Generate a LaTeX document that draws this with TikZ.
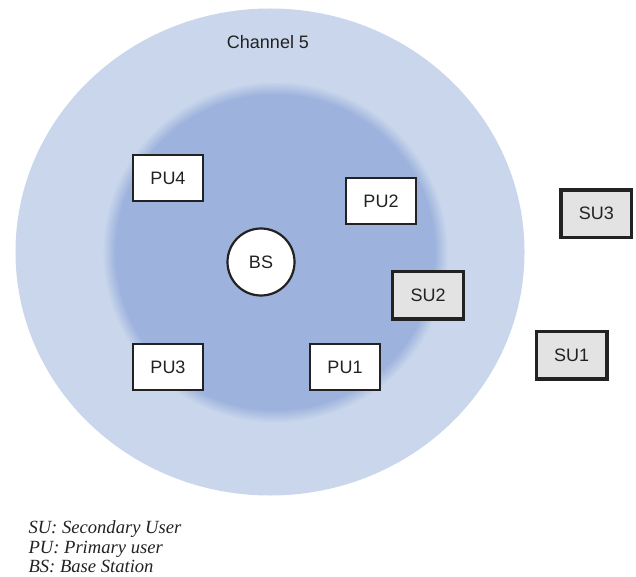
\documentclass[tikz,border=0pt]{standalone}
\usepackage{fontspec}
\setmainfont{Liberation Serif}
\newfontfamily\labelfont{Liberation Sans}
\definecolor{cellouter}{HTML}{C9D6EC}
\definecolor{cellinner}{HTML}{9DB3DD}
\definecolor{sufill}{HTML}{E3E3E3}
\definecolor{inkgray}{HTML}{222222}
\tikzset{
  pubox/.style={draw=inkgray, line width=2.3pt, fill=white, minimum width=69.7pt, minimum height=45.7pt,
    inner sep=0pt, font=\labelfont\fontsize{18}{20}\selectfont, text=inkgray},
  subox/.style={draw=inkgray, line width=3.4pt, fill=sufill, minimum width=70.6pt, minimum height=47.6pt,
    inner sep=0pt, font=\labelfont\fontsize{18}{20}\selectfont, text=inkgray},
  station/.style={circle, draw=inkgray, line width=2.2pt, fill=white, minimum size=67pt, inner sep=0pt,
    font=\labelfont\fontsize{18}{20}\selectfont, text=inkgray},
  legendline/.style={anchor=base west, inner sep=0pt, font=\itshape\fontsize{18.6}{20}\selectfont, text=inkgray},
}
\begin{document}
\begin{tikzpicture}[x=1pt, y=-1pt]
\useasboundingbox (0,0) rectangle (636,577);
% coverage area of the channel
\fill[cellouter] (270,252) ellipse [x radius=254.5, y radius=243.5];
% inner zone with a soft rim
\foreach \k in {0,...,13}{
  \pgfmathtruncatemacro\pct{100*\k/13}
  \pgfmathsetmacro\grow{13-\k}
  \fill[cellinner!\pct!cellouter] (275.5,252.5) ellipse [x radius=160+\grow, y radius=158+\grow];
}
\node[anchor=base, inner sep=0pt, font=\labelfont\fontsize{18}{20}\selectfont, text=inkgray] (chan) at (268,48.3) {Channel 5};

% primary users
\node[pubox] (pu4) at (168,178) {PU4};
\node[pubox] (pu2) at (381,201) {PU2};
\node[pubox] (pu3) at (168,367) {PU3};
\node[pubox] (pu1) at (345,367) {PU1};
% base station
\node[station] (bs) at (261,262) {BS};
% secondary users
\node[subox] (su2) at (428,295) {SU2};
\node[subox] (su3) at (596.3,213.8) {SU3};
\node[subox] (su1) at (571.5,355) {SU1};

% legend
\node[legendline] (lgsu) at (28.3,533.3) {SU: Secondary User};
\node[legendline] (lgpu) at (28.3,553.2) {PU: Primary user};
\node[legendline] (lgbs) at (28.3,572.7) {BS: Base Station};
\end{tikzpicture}
\end{document}
